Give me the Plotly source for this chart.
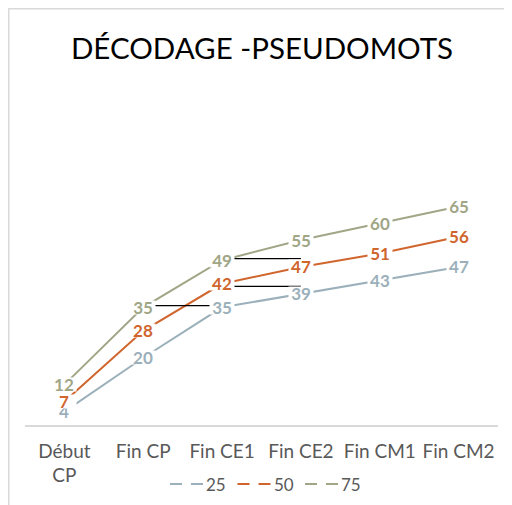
import plotly.graph_objects as go

# ---- data ----
categories = ["Début CP", "Fin CP", "Fin CE1", "Fin CE2", "Fin CM1", "Fin CM2"]
tick_labels = ["Début<br>CP", "Fin CP", "Fin CE1", "Fin CE2", "Fin CM1", "Fin CM2"]
series_names = ["25", "50", "75"]
p25 = [4, 20, 35, 39, 43, 47]
p50 = [7, 28, 42, 47, 51, 56]
p75 = [12, 35, 49, 55, 60, 65]
# black connector segments seen on the chart: (from, to, value)
connectors = [("Fin CP", "Fin CE1", 35.5), ("Fin CE1", "Fin CE2", 41.2), ("Fin CE1", "Fin CE2", 49.5)]

colors = ["#9BB0BA", "#D0652D", "#A0A686"]
series = [p25, p50, p75]

# page body has an 8px margin: build the figure 8px smaller and shift targets by 8
OFF = 8
W, H = 512 - OFF, 505 - OFF
ML, MR, MT, MB = 25 - OFF, 14, 156 - OFF, 80
PW, PH = W - ML - MR, H - MT - MB
FONT = "Lato"


def px_x(p):  # reference-pixel -> paper
    return (p - OFF - ML) / PW


def px_y(p):
    return (H - MB - (p - OFF)) / PH


fig = go.Figure()

for name, vals, col in zip(series_names, series, colors):
    fig.add_trace(go.Scatter(x=categories, y=vals, mode="lines", name=name,
                             line=dict(color=col, width=2), showlegend=False,
                             hoverinfo="skip"))

for a, b, v in connectors:
    fig.add_trace(go.Scatter(x=[a, b], y=[v, v], mode="lines",
                             line=dict(color="black", width=1.3), showlegend=False,
                             hoverinfo="skip"))

annotations = []
for vals, col in zip(series, colors):
    for c, v in zip(categories, vals):
        annotations.append(dict(x=c, y=v, xref="x", yref="y", text=str(v), showarrow=False,
                                font=dict(family=FONT, size=17, color=col, weight="bold"),
                                bgcolor="white", borderpad=0, height=13, width=24))

shapes = []
# outer border
shapes.append(dict(type="rect", xref="paper", yref="paper",
                   x0=px_x(8.75), x1=px_x(530), y0=px_y(530), y1=px_y(8.75),
                   line=dict(color="#D9D9D9", width=1.5), fillcolor="rgba(0,0,0,0)", layer="below"))

# custom legend
leg_y = px_y(484)
start = 170
for i, (name, col) in enumerate(zip(series_names, colors)):
    x0 = start + i * 67.5
    shapes.append(dict(type="line", xref="paper", yref="paper", x0=px_x(x0), x1=px_x(x0 + 12),
                       y0=leg_y, y1=leg_y, line=dict(color=col, width=2)))
    shapes.append(dict(type="line", xref="paper", yref="paper", x0=px_x(x0 + 21), x1=px_x(x0 + 33),
                       y0=leg_y, y1=leg_y, line=dict(color=col, width=2)))
    annotations.append(dict(x=px_x(x0 + 34), y=leg_y, xref="paper", yref="paper", text=name,
                            showarrow=False, xanchor="left", yanchor="middle",
                            font=dict(family=FONT, size=17, color="#595959")))

fig.update_layout(
    width=W, height=H,
    margin=dict(l=ML, r=MR, t=MT, b=MB, autoexpand=False),
    paper_bgcolor="white", plot_bgcolor="white",
    title=dict(text="DÉCODAGE -PSEUDOMOTS", x=(262 - OFF) / W, xanchor="center",
               y=1 - 41 / H, yanchor="middle", yref="container",
               font=dict(family=FONT, size=29.5, color="black")),
    xaxis=dict(type="category", categoryorder="array", categoryarray=categories,
               range=[-0.5, 5.5], automargin=False,
               tickmode="array", tickvals=categories, ticktext=tick_labels,
               showline=True, linecolor="#D9D9D9", linewidth=1.5, showgrid=False,
               ticks="outside", ticklen=8, tickcolor="rgba(0,0,0,0)",
               tickfont=dict(family=FONT, size=19, color="#595959"), zeroline=False),
    yaxis=dict(range=[0, 80], showgrid=False, showticklabels=False, zeroline=False,
               showline=False, automargin=False),
    shapes=shapes, annotations=annotations,
)

fig.write_html("out.html")
